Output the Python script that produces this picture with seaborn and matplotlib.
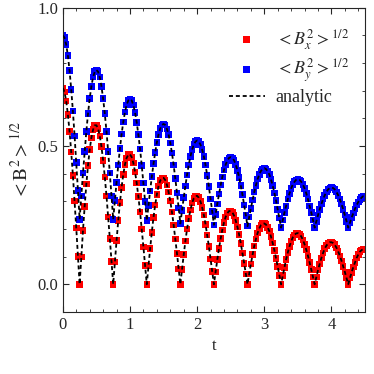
import numpy as np
import pandas as pd
import matplotlib
matplotlib.use("Agg")
import matplotlib.pyplot as plt
from matplotlib.ticker import MultipleLocator, FormatStrFormatter
import seaborn as sns

# tiempos de muestreo (dt = 0.025)
t = np.linspace(0.0, 4.5, 181)

# <Bx^2>^1/2
bx = [
    0.710, 0.695, 0.663, 0.615, 0.553, 0.478, 0.394, 0.301, 0.203, 0.101, 0.000, 0.099, 0.194, 0.282, 0.362, 0.430, 0.487, 0.530, 0.559, 0.575,
    0.575, 0.563, 0.537, 0.498, 0.448, 0.388, 0.320, 0.244, 0.165, 0.082, 0.000, 0.081, 0.158, 0.230, 0.295, 0.351, 0.397, 0.433, 0.457, 0.469,
    0.470, 0.460, 0.439, 0.407, 0.366, 0.317, 0.262, 0.200, 0.135, 0.067, 0.000, 0.066, 0.129, 0.188, 0.242, 0.287, 0.325, 0.355, 0.375, 0.384,
    0.385, 0.377, 0.360, 0.334, 0.301, 0.261, 0.215, 0.164, 0.111, 0.056, 0.000, 0.054, 0.107, 0.156, 0.200, 0.238, 0.269, 0.294, 0.311, 0.319,
    0.320, 0.313, 0.299, 0.278, 0.250, 0.217, 0.178, 0.137, 0.092, 0.046, 0.000, 0.045, 0.089, 0.129, 0.165, 0.197, 0.224, 0.244, 0.257, 0.265,
    0.265, 0.260, 0.248, 0.230, 0.207, 0.180, 0.148, 0.113, 0.076, 0.038, 0.000, 0.037, 0.074, 0.107, 0.138, 0.163, 0.185, 0.202, 0.214, 0.219,
    0.220, 0.216, 0.206, 0.192, 0.172, 0.149, 0.123, 0.094, 0.064, 0.032, 0.000, 0.031, 0.061, 0.090, 0.115, 0.137, 0.155, 0.170, 0.179, 0.184,
    0.185, 0.181, 0.173, 0.161, 0.144, 0.125, 0.103, 0.079, 0.053, 0.027, 0.000, 0.026, 0.051, 0.074, 0.095, 0.113, 0.129, 0.140, 0.147, 0.152,
    0.152, 0.149, 0.143, 0.132, 0.119, 0.103, 0.085, 0.065, 0.044, 0.022, 0.000, 0.022, 0.043, 0.062, 0.079, 0.095, 0.108, 0.118, 0.124, 0.127,
    0.128,
]

# <By^2>^1/2
by = [
    0.900, 0.892, 0.867, 0.828, 0.773, 0.705, 0.626, 0.537, 0.440, 0.339, 0.235, 0.319, 0.402, 0.480, 0.553, 0.617, 0.672, 0.716, 0.749, 0.769,
    0.775, 0.769, 0.749, 0.716, 0.672, 0.617, 0.553, 0.480, 0.402, 0.319, 0.235, 0.303, 0.369, 0.432, 0.491, 0.543, 0.587, 0.623, 0.649, 0.665,
    0.670, 0.665, 0.648, 0.622, 0.586, 0.541, 0.489, 0.430, 0.366, 0.299, 0.230, 0.285, 0.338, 0.389, 0.436, 0.477, 0.513, 0.542, 0.563, 0.576,
    0.580, 0.576, 0.562, 0.541, 0.511, 0.475, 0.432, 0.383, 0.331, 0.276, 0.220, 0.267, 0.313, 0.356, 0.396, 0.432, 0.463, 0.487, 0.505, 0.516,
    0.520, 0.516, 0.505, 0.487, 0.462, 0.431, 0.394, 0.353, 0.309, 0.263, 0.215, 0.253, 0.291, 0.326, 0.359, 0.388, 0.413, 0.433, 0.448, 0.457,
    0.460, 0.457, 0.448, 0.433, 0.412, 0.387, 0.357, 0.324, 0.287, 0.249, 0.210, 0.243, 0.275, 0.305, 0.333, 0.358, 0.380, 0.397, 0.410, 0.417,
    0.420, 0.417, 0.409, 0.397, 0.379, 0.357, 0.331, 0.303, 0.271, 0.239, 0.205, 0.232, 0.259, 0.284, 0.308, 0.329, 0.347, 0.361, 0.371, 0.378,
    0.380, 0.378, 0.371, 0.361, 0.347, 0.329, 0.308, 0.284, 0.259, 0.232, 0.205, 0.228, 0.250, 0.271, 0.290, 0.308, 0.322, 0.334, 0.343, 0.348,
    0.350, 0.348, 0.343, 0.334, 0.322, 0.308, 0.290, 0.271, 0.250, 0.228, 0.205, 0.223, 0.241, 0.257, 0.273, 0.286, 0.298, 0.307, 0.314, 0.319,
    0.320,
]

df = pd.DataFrame({"t": t, "bx": bx, "by": by})

sns.set_style("ticks")
plt.rcParams["font.family"] = ["Liberation Serif", "DejaVu Serif"]
plt.rcParams["mathtext.fontset"] = "stix"
plt.rcParams["font.size"] = 12

fig = plt.figure(figsize=(3.74, 3.74), dpi=100)
ax = fig.add_axes([0.168, 0.166, 0.808, 0.813])

# puntos de simulacion
sns.scatterplot(data=df, x="t", y="bx", ax=ax, marker="s", s=22, color="red",
                edgecolor="none", label=r"$<B_x^2>^{1/2}$", zorder=2)
sns.scatterplot(data=df, x="t", y="by", ax=ax, marker="s", s=22, color="blue",
                edgecolor="none", label=r"$<B_y^2>^{1/2}$", zorder=2)

# curvas analiticas
sns.lineplot(data=df, x="t", y="bx", ax=ax, color="black", lw=1.3,
             linestyle=(0, (2.2, 1.6)), label="analytic", zorder=3)
sns.lineplot(data=df, x="t", y="by", ax=ax, color="black", lw=1.3,
             linestyle=(0, (2.2, 1.6)), zorder=3)

ax.set_xlim(0, 4.5)
ax.set_ylim(-0.1, 1.0)
ax.xaxis.set_major_locator(MultipleLocator(1))
ax.xaxis.set_minor_locator(MultipleLocator(0.2))
ax.yaxis.set_major_locator(MultipleLocator(0.5))
ax.yaxis.set_minor_locator(MultipleLocator(0.1))
ax.tick_params(which="both", direction="in", top=True, right=True, labelsize=12)
ax.tick_params(which="major", length=4, width=0.8)
ax.tick_params(which="minor", length=2, width=0.6)
ax.xaxis.set_major_formatter(FormatStrFormatter("%g"))
ax.yaxis.set_major_formatter(FormatStrFormatter("%.1f"))

ax.set_xlabel("t", fontsize=12)
ax.set_ylabel(r"$<\mathrm{B}^2>^{1/2}$", fontsize=14)

ax.legend(loc="upper right", bbox_to_anchor=(1.0, 0.99), frameon=False,
          fontsize=13, handlelength=2.0, handletextpad=0.6, labelspacing=0.25,
          borderaxespad=0.5, markerscale=1.1)

fig.savefig("out.png", dpi=100)
